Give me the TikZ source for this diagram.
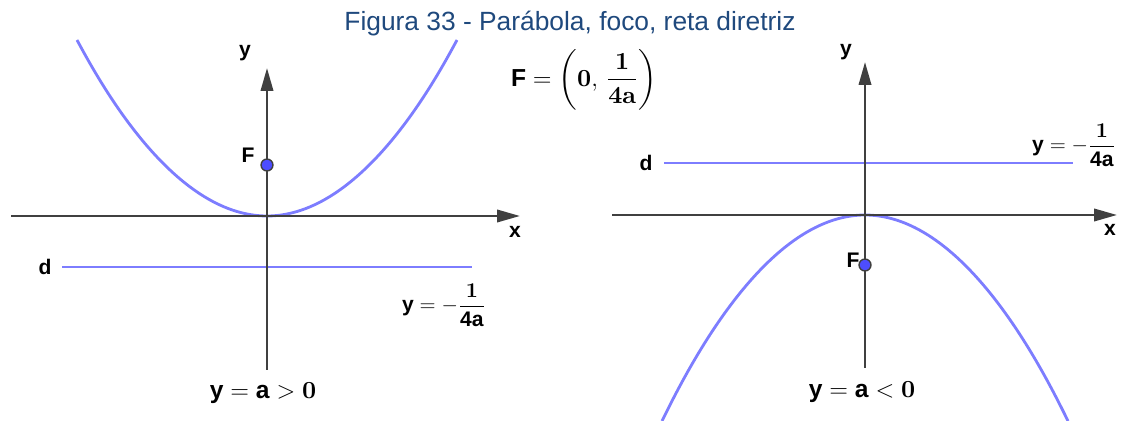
\RequirePackage{fix-cm}
\documentclass[tikz,border=0pt]{standalone}
\usepackage{amsmath}
\usepackage{fontspec}
\setsansfont{Liberation Sans}
\newfontfamily\titlefont{Liberation Sans}
\newfontfamily\serifb{lmroman10-bold.otf}
\usetikzlibrary{arrows.meta,positioning}
\definecolor{azulcurva}{RGB}{125,125,255}
\definecolor{cinzaeixo}{RGB}{64,64,64}
\definecolor{azulponto}{RGB}{77,77,255}
\definecolor{azultitulo}{RGB}{31,73,125}
\newcommand{\gb}[1]{\textsf{\textbf{#1}}}
\newcommand{\nb}[1]{\mbox{\serifb #1}}
\tikzset{
  eixo/.style={draw=cinzaeixo, line width=1.4pt, -{Triangle[length=13pt,width=7pt]}},
  curva/.style={draw=azulcurva, line width=1.6pt},
  rotulo/.style={font=\sffamily\bfseries\fontsize{12}{14}\selectfont, inner sep=0pt},
  formula/.style={font=\fontsize{14}{16}\selectfont, inner sep=0pt},
  pequena/.style={font=\fontsize{12}{14}\selectfont, inner sep=0pt},
  foco/.style={fill=azulponto, draw=black!75, line width=0.8pt}
}
\begin{document}
\begin{tikzpicture}[x=0.02cm, y=-0.02cm]
\useasboundingbox (0,0) rectangle (1125,421);
% titulo
\node[font=\titlefont\fontsize{15}{17}\selectfont, text=azultitulo, inner sep=0pt] (titulo) at (570,24) {Figura 33 - Parábola, foco, reta diretriz};
\node[font=\fontsize{14}{16}\selectfont, inner sep=0pt] (focoF) at (584,80) {$\gb{F} = \left(\nb{0},\, \dfrac{\nb{1}}{\nb{4a}}\right)$};
% a > 0
\draw[curva] (77,40) parabola bend (267,216) (457,40);
\draw[curva] (62,267) -- (472,267);
\draw[eixo] (11,216) -- (520,216);
\draw[eixo] (267,370) -- (267,68);
\filldraw[foco] (267,165) circle (3.4pt);
\node[rotulo] (xA) at (515,232) {x};
\node[rotulo] (yA) at (245,53) {y};
\node[rotulo] (fA) at (248,155) {F};
\node[rotulo] (dA) at (45,267) {d};
\node[pequena] (retaA) at (444,305) {$\gb{y} = -\dfrac{\nb{1}}{\gb{4a}}$};
\node[formula] (eqA) at (263,393) {$\gb{y} = \gb{a} > \nb{0}$};
% a < 0
\draw[curva] (662,421) parabola bend (865,215) (1068,421);
\draw[curva] (664,163) -- (1073,163);
\draw[eixo] (612,215) -- (1117,215);
\draw[eixo] (865,368) -- (865,62);
\filldraw[foco] (865,265) circle (3.4pt);
\node[rotulo] (xB) at (1110,230) {x};
\node[rotulo] (yB) at (846,52) {y};
\node[rotulo] (fB) at (853,260) {F};
\node[rotulo] (dB) at (646,163) {d};
\node[pequena] (retaB) at (1074,145) {$\gb{y} = -\dfrac{\nb{1}}{\gb{4a}}$};
\node[formula] (eqB) at (862,392) {$\gb{y} = \gb{a} < \nb{0}$};
\end{tikzpicture}
\end{document}
